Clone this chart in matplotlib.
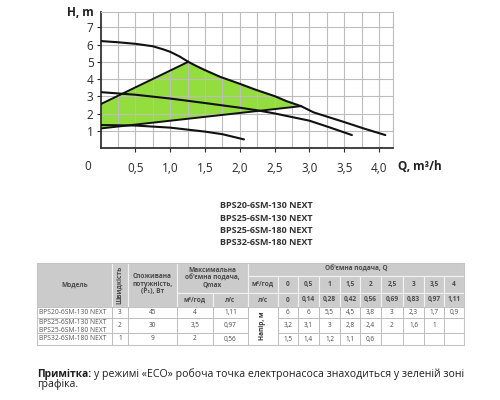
import matplotlib
matplotlib.use("Agg")
import matplotlib.pyplot as plt
from matplotlib.patches import Rectangle
import numpy as np

plt.rcParams['font.family'] = ['Open Sans', 'DejaVu Sans']

# ---------------- chart data ----------------
q_speed3 = [0, 0.25, 0.5, 0.75, 0.9, 1.0, 1.14, 1.26, 1.38, 1.5, 1.72, 2.0, 2.24, 2.5, 2.67, 2.88, 3.06, 3.5, 3.78, 4.09]
h_speed3 = [6.2, 6.13, 6.04, 5.9, 5.72, 5.58, 5.3, 5.0, 4.75, 4.52, 4.13, 3.73, 3.37, 3.02, 2.73, 2.44, 2.08, 1.52, 1.15, 0.77]
q_speed2 = [0, 0.5, 1.0, 1.5, 2.0, 2.25, 2.5, 3.0, 3.3, 3.61]
h_speed2 = [3.25, 3.1, 2.88, 2.62, 2.35, 2.2, 2.02, 1.6, 1.2, 0.77]
q_speed1 = [0, 0.5, 1.0, 1.5, 1.75, 2.06]
h_speed1 = [1.35, 1.32, 1.2, 0.97, 0.82, 0.52]
eco_top_q = [0, 1.26]
eco_top_h = [2.55, 5.0]
eco_bottom_q = [0, 2.88]
eco_bottom_h = [1.15, 2.44]
x_tick_values = [0.5, 1.0, 1.5, 2.0, 2.5, 3.0, 3.5, 4.0]
x_tick_labels = ["0,5", "1,0", "1,5", "2,0", "2,5", "3,0", "3,5", "4,0"]
y_tick_values = [1, 2, 3, 4, 5, 6, 7]

models_list = ["BPS20-6SM-130 NEXT", "BPS25-6SM-130 NEXT", "BPS25-6SM-180 NEXT", "BPS32-6SM-180 NEXT"]

# ---------------- table data ----------------
table_models = [["BPS20-6SM-130 NEXT"], ["BPS25-6SM-130 NEXT", "BPS25-6SM-180 NEXT"], ["BPS32-6SM-180 NEXT"]]
table_speed = ["3", "2", "1"]
table_power = ["45", "30", "9"]
table_qmax_m3h = ["4", "3,5", "2"]
table_qmax_ls = ["1,11", "0,97", "0,56"]
table_q_m3h = ["0", "0,5", "1", "1,5", "2", "2,5", "3", "3,5", "4"]
table_q_ls = ["0", "0,14", "0,28", "0,42", "0,56", "0,69", "0,83", "0,97", "1,11"]
table_head = [
    [6, 6, 5.5, 4.5, 3.8, 3, 2.3, 1.7, 0.9],
    [3.2, 3.1, 3, 2.8, 2.4, 2, 1.6, 1, None],
    [1.5, 1.4, 1.2, 1.1, 0.6, None, None, None, None],
]

note_bold = "Примітка:"
note_line1 = "у режимі «ECO» робоча точка електронасоса знаходиться у зеленій зоні"
note_line2 = "графіка."

# ---------------- figure ----------------
fig = plt.figure(figsize=(5, 4), dpi=100)
fig.patch.set_facecolor('white')
ov = fig.add_axes([0, 0, 1, 1])
ov.set_xlim(0, 500)
ov.set_ylim(400, 0)
ov.axis('off')

ax = fig.add_axes([0.201, 0.629, 0.585, 0.342])
ax.set_xlim(0, 4.2)
ax.set_ylim(0, 7.9)

grid_c = '#bdbdbd'
ax.set_axisbelow(True)
ax.set_xticks(np.arange(0.25, 4.2, 0.25), minor=True)
ax.set_xticks(x_tick_values)
ax.set_xticklabels(x_tick_labels)
ax.set_yticks(y_tick_values)
ax.grid(which='both', axis='x', color=grid_c, lw=0.8)
ax.grid(which='major', axis='y', color=grid_c, lw=0.8)
ax.tick_params(axis='x', which='major', length=3, width=0.8, pad=7, labelsize=8.5, colors='#2a2a2a')
ax.tick_params(axis='x', which='minor', length=0)
ax.tick_params(axis='y', which='major', length=3, width=0.8, pad=2, labelsize=8.5, colors='#2a2a2a')
for s in ['left', 'bottom']:
    ax.spines[s].set_color('#333333')
    ax.spines[s].set_linewidth(1.3)
for s in ['top', 'right']:
    ax.spines[s].set_color(grid_c)
    ax.spines[s].set_linewidth(0.8)

# green ECO zone
poly_q = list(eco_top_q)
poly_h = list(eco_top_h)
for q, h in zip(q_speed3, h_speed3):
    if eco_top_q[1] < q < eco_bottom_q[1]:
        poly_q.append(q)
        poly_h.append(h)
poly_q += eco_bottom_q[::-1]
poly_h += eco_bottom_h[::-1]
ax.fill(poly_q, poly_h, color='#8bdb2e', alpha=0.92, zorder=0.3, lw=0)

lc = '#111111'
ax.plot(q_speed3, h_speed3, color=lc, lw=1.5, zorder=3, solid_capstyle='round')
ax.plot(q_speed2, h_speed2, color=lc, lw=1.5, zorder=3, solid_capstyle='round')
ax.plot(q_speed1, h_speed1, color=lc, lw=1.5, zorder=3, solid_capstyle='round')
ax.plot(eco_top_q, eco_top_h, color=lc, lw=1.4, zorder=3)
ax.plot(eco_bottom_q, eco_bottom_h, color=lc, lw=1.4, zorder=3)

ov.text(94, 12.5, "H, m", ha='right', va='center', fontsize=8.5, fontweight='bold', color='#222222')
ov.text(88, 166.5, "0", ha='center', va='center', fontsize=8.5, color='#2a2a2a')
ov.text(398, 166.5, "Q, m³/h", ha='left', va='center', fontsize=8.5, fontweight='bold', color='#222222')

# model names list
for i, m in enumerate(models_list):
    ov.text(220, 206 + i * 12.2, m, ha='left', va='center', fontsize=6.5, fontweight='bold', color='#333333')

# ---------------- table ----------------
hdr_fc = '#cbcbcb'
hdr_ec = '#f2f2f2'
dat_ec = '#b8b8b8'
tc = '#4a4a4a'
fs_t = 4.7

def cell(x0, x1, y0, y1, fc, ec, lw=0.8):
    ov.add_patch(Rectangle((x0, y0), x1 - x0, y1 - y0, facecolor=fc, edgecolor=ec, lw=lw))

def txt(x, y, s, bold=False, rot=0, fs=fs_t, color=tc):
    ov.text(x, y, s, ha='center', va='center', fontsize=fs, rotation=rot,
            fontweight='bold' if bold else 'normal', color=color, linespacing=1.15)

cols = [37, 112, 128, 177, 213, 248, 278, 298, 319, 340, 360, 381, 403, 424, 444, 464]
r_top, r_q, r_m3, r_hdr = 263, 276, 293, 307
rows = [307, 318, 333, 345]

# header cells
cell(cols[0], cols[1], r_top, r_hdr, hdr_fc, hdr_ec)
cell(cols[1], cols[2], r_top, r_hdr, hdr_fc, hdr_ec)
cell(cols[2], cols[3], r_top, r_hdr, hdr_fc, hdr_ec)
cell(cols[3], cols[5], r_top, r_m3, hdr_fc, hdr_ec)
cell(cols[3], cols[4], r_m3, r_hdr, hdr_fc, hdr_ec)
cell(cols[4], cols[5], r_m3, r_hdr, hdr_fc, hdr_ec)
cell(cols[5], cols[15], r_top, r_q, hdr_fc, hdr_ec)
for j in range(5, 15):
    cell(cols[j], cols[j + 1], r_q, r_m3, hdr_fc, hdr_ec)
    cell(cols[j], cols[j + 1], r_m3, r_hdr, hdr_fc, hdr_ec)

txt((cols[0] + cols[1]) / 2, 285, "Модель", bold=True)
txt((cols[1] + cols[2]) / 2, 285, "Швидкість", bold=True, rot=90, fs=4.9)
txt((cols[2] + cols[3]) / 2, 284, "Споживана\nпотужність,\n(P₁), Вт", bold=True)
txt((cols[3] + cols[5]) / 2, 278, "Максимальна\nоб'ємна подача,\nQmax", bold=True)
txt((cols[3] + cols[4]) / 2, 300, "м³/год", bold=True)
txt((cols[4] + cols[5]) / 2, 300, "л/с", bold=True)
txt((cols[5] + cols[15]) / 2, 269.5, "Об'ємна подача, Q", bold=True)
txt((cols[5] + cols[6]) / 2, 284.5, "м³/год", bold=True)
txt((cols[5] + cols[6]) / 2, 300, "л/с", bold=True)
for j, (a, b) in enumerate(zip(table_q_m3h, table_q_ls)):
    xc = (cols[6 + j] + cols[7 + j]) / 2
    txt(xc, 284.5, a, bold=True)
    txt(xc, 300, b, bold=True)

# data cells
for i in range(3):
    y0, y1 = rows[i], rows[i + 1]
    yc = (y0 + y1) / 2
    for j in [0, 1, 2, 3, 4]:
        cell(cols[j], cols[j + 1], y0, y1, 'white', dat_ec, 0.6)
    names = table_models[i]
    if len(names) == 1:
        ov.text(cols[0] + 2, yc, names[0], ha='left', va='center', fontsize=fs_t + 0.2, color='#555555')
    else:
        for k, n in enumerate(names):
            ov.text(cols[0] + 2, y0 + 4.5 + k * 7.8, n, ha='left', va='center', fontsize=fs_t + 0.2, color='#555555')
    txt((cols[1] + cols[2]) / 2, yc, table_speed[i])
    txt((cols[2] + cols[3]) / 2, yc, table_power[i])
    txt((cols[3] + cols[4]) / 2, yc, table_qmax_m3h[i])
    txt((cols[4] + cols[5]) / 2, yc, table_qmax_ls[i])
    for j, v in enumerate(table_head[i]):
        cell(cols[6 + j], cols[7 + j], y0, y1, 'white', dat_ec, 0.6)
        if v is not None:
            txt((cols[6 + j] + cols[7 + j]) / 2, yc, f"{v:g}".replace('.', ','))

cell(cols[5], cols[6], rows[0], rows[3], 'white', dat_ec, 0.6)
txt((cols[5] + cols[6]) / 2, (rows[0] + rows[3]) / 2, "Напір, м", bold=True, rot=90, color='#333333')
ov.add_patch(Rectangle((cols[0], r_top), cols[15] - cols[0], rows[3] - r_top,
                       facecolor='none', edgecolor='#c4c4c4', lw=0.8))

# ---------------- note ----------------
renderer = fig.canvas.get_renderer()
fs_n = 7.4
x_left, x_right, y1n, y2n = 37, 462, 374, 384
tb = ov.text(x_left, y1n, note_bold, ha='left', va='center', fontsize=fs_n,
             fontweight='bold', color='#1e1e1e')
wb = tb.get_window_extent(renderer).width * 500 / fig.bbox.width
tr = ov.text(x_left + wb + 3, y1n, note_line1, ha='left', va='center', fontsize=fs_n, color='#1e1e1e')
wr = tr.get_window_extent(renderer).width * 500 / fig.bbox.width
avail = x_right - (x_left + wb + 3)
fs_r = fs_n * min(1.08, max(0.9, avail / wr))
tr.set_fontsize(fs_r)
ov.text(x_left, y2n, note_line2, ha='left', va='center', fontsize=fs_r, color='#1e1e1e')

fig.savefig("out.png", dpi=100, facecolor='white')
